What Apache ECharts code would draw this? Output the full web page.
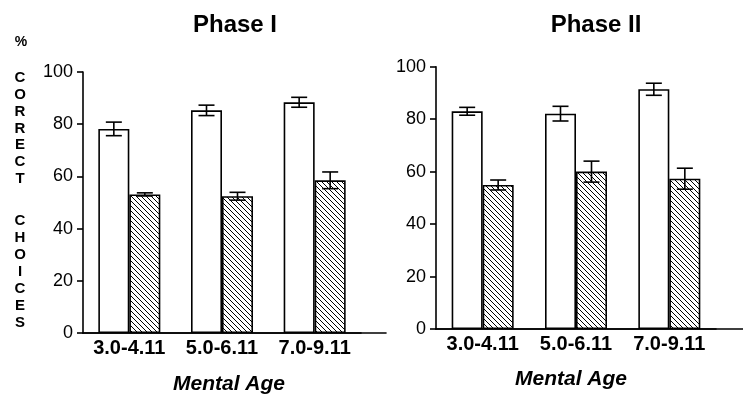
<!DOCTYPE html>
<html><head><meta charset="utf-8">
<script src="https://cdn.jsdelivr.net/npm/echarts@6/dist/echarts.min.js"></script>
<style>html,body{margin:0;padding:0;background:#fff}#c{width:743px;height:395px}</style>
</head><body><div id="c"></div>
<script>
const categories = ['3.0-4.11', '5.0-6.11', '7.0-9.11'];
const phase1White = [78.2, 85.3, 88.4];
const phase1WhiteErr = [2.6, 2.0, 1.9];
const phase1Hatched = [53.1, 52.4, 58.5];
const phase1HatchedErr = [0.6, 1.5, 3.2];
const phase2White = [83.0, 82.1, 91.4];
const phase2WhiteErr = [1.5, 2.8, 2.3];
const phase2Hatched = [54.9, 60.0, 57.3];
const phase2HatchedErr = [1.9, 4.0, 4.0];
const yMin = 0, yMax = 100, yStep = 20;
const titles = ['Phase I', 'Phase II'];
const xTitle = 'Mental Age';

const FONT = '"Liberation Sans", Arial, sans-serif';
const BAR_W = 31;

function hatchPattern() {
  const s = 5;
  const c = document.createElement('canvas');
  c.width = s; c.height = s;
  const ctx = c.getContext('2d');
  ctx.fillStyle = '#fff'; ctx.fillRect(0, 0, s, s);
  ctx.strokeStyle = '#000'; ctx.lineWidth = 1;
  ctx.beginPath();
  for (const x0 of [-s, 0, s]) { ctx.moveTo(x0 - 1, -1); ctx.lineTo(x0 + s + 1, s + 1); }
  ctx.stroke();
  return c;
}
const hatch = { image: hatchPattern(), repeat: 'repeat' };

function errData(vals, errs) { return vals.map((v, i) => [i, v - errs[i], v + errs[i]]); }
function errSeries(idx, vals, errs, offset) {
  return {
    type: 'custom', xAxisIndex: idx, yAxisIndex: idx, z: 5,
    data: errData(vals, errs), encode: { x: 0, y: [1, 2] },
    renderItem: function (params, api) {
      const x = api.coord([api.value(0), 0])[0] + offset;
      const lo = api.coord([api.value(0), api.value(1)])[1];
      const hi = api.coord([api.value(0), api.value(2)])[1];
      const st = { stroke: '#000', lineWidth: 1.6 };
      const cw = 8;
      return { type: 'group', children: [
        { type: 'line', shape: { x1: x, y1: lo, x2: x, y2: hi }, style: st },
        { type: 'line', shape: { x1: x - cw, y1: lo, x2: x + cw, y2: lo }, style: st },
        { type: 'line', shape: { x1: x - cw, y1: hi, x2: x + cw, y2: hi }, style: st }
      ] };
    }
  };
}

const grids = [
  { left: 83, top: 72, width: 278, height: 261 },
  { left: 436, top: 66.7, width: 280, height: 262.3 },
  { left: 83, top: 72, width: 303, height: 261 },
  { left: 436, top: 66.7, width: 307, height: 262.3 }
];
const lineStyle = { color: '#000', width: 1.6 };
const xAxes = [0, 1].map(i => ({
  type: 'category', gridIndex: i, data: categories,
  axisLine: { lineStyle }, axisTick: { show: false },
  axisLabel: { color: '#000', fontFamily: FONT, fontWeight: 'bold', fontSize: 20, margin: 5, interval: 0, hideOverlap: false }
})).concat([2, 3].map(i => ({
  type: 'value', gridIndex: i, axisLine: { show: true, lineStyle }, axisTick: { show: false },
  axisLabel: { show: false }, splitLine: { show: false }
})));
const yAxes = [0, 1].map(i => ({
  type: 'value', gridIndex: i, min: yMin, max: yMax, interval: yStep,
  axisLine: { show: true, lineStyle }, axisTick: { show: true, length: 6, lineStyle },
  splitLine: { show: false },
  axisLabel: { color: '#000', fontFamily: FONT, fontSize: 18, margin: 10 }
})).concat([2, 3].map(i => ({ type: 'value', gridIndex: i, show: false })));

const barItem = (fill) => ({ color: fill, borderColor: '#000', borderWidth: 1.6 });
const series = [
  { type: 'bar', xAxisIndex: 0, yAxisIndex: 0, data: phase1White, barWidth: BAR_W, barGap: '0%', itemStyle: barItem('#fff') },
  { type: 'bar', xAxisIndex: 0, yAxisIndex: 0, data: phase1Hatched, barWidth: BAR_W, barGap: '0%', itemStyle: barItem(hatch) },
  { type: 'bar', xAxisIndex: 1, yAxisIndex: 1, data: phase2White, barWidth: BAR_W, barGap: '0%', itemStyle: barItem('#fff') },
  { type: 'bar', xAxisIndex: 1, yAxisIndex: 1, data: phase2Hatched, barWidth: BAR_W, barGap: '0%', itemStyle: barItem(hatch) },
  errSeries(0, phase1White, phase1WhiteErr, -BAR_W / 2),
  errSeries(0, phase1Hatched, phase1HatchedErr, BAR_W / 2),
  errSeries(1, phase2White, phase2WhiteErr, -BAR_W / 2),
  errSeries(1, phase2Hatched, phase2HatchedErr, BAR_W / 2)
];

const txt = (x, y, t, size, weight, style) => ({
  type: 'text', x: x, y: y,
  style: { text: t, fill: '#000', font: (style || 'normal') + ' ' + weight + ' ' + size + 'px ' + FONT, align: 'center', verticalAlign: 'middle' }
});
const vert = (s) => s.split('').join('\n');
const graphic = [
  txt(235, 25, titles[0], 24, 'bold'),
  txt(596, 25, titles[1], 24, 'bold'),
  txt(229, 384, xTitle, 21, 'bold', 'italic'),
  txt(571, 379, xTitle, 21, 'bold', 'italic'),
  txt(21, 42, '%', 14, 'bold'),
  { type: 'text', x: 20, y: 70, style: { text: vert('CORRECT'), fill: '#000', font: 'bold 15px ' + FONT, align: 'center', verticalAlign: 'top', lineHeight: 16.7 } },
  { type: 'text', x: 20, y: 212, style: { text: vert('CHOICES'), fill: '#000', font: 'bold 15px ' + FONT, align: 'center', verticalAlign: 'top', lineHeight: 17 } }
];

const chart = echarts.init(document.getElementById('c'), null, { renderer: 'canvas' });
chart.setOption({
  animation: false, backgroundColor: '#fff',
  grid: grids, xAxis: xAxes, yAxis: yAxes, series: series, graphic: graphic
});
</script></body></html>
